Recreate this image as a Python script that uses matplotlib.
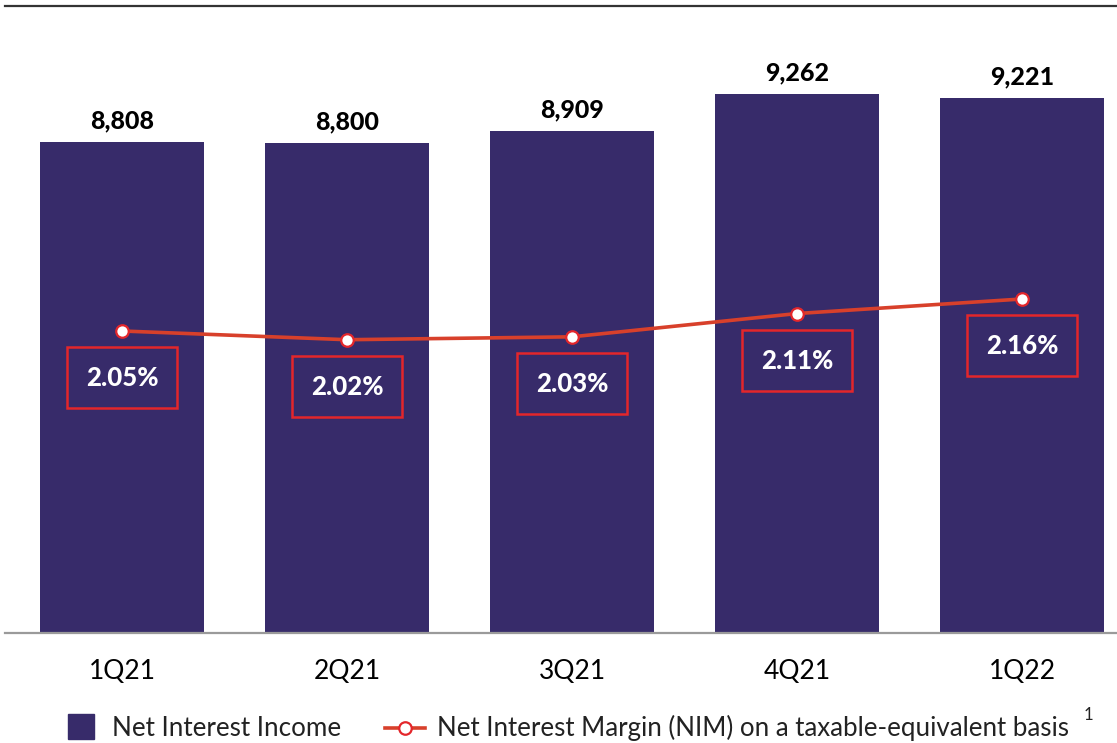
import numpy as np
import matplotlib
matplotlib.use("Agg")
import matplotlib.pyplot as plt
from matplotlib.lines import Line2D
from matplotlib.patches import Rectangle

plt.rcParams['font.family'] = ['Lato', 'DejaVu Sans']

quarters = ["1Q21", "2Q21", "3Q21", "4Q21", "1Q22"]
nii = [8808, 8800, 8909, 9262, 9221]
nim = [2.05, 2.02, 2.03, 2.11, 2.16]
nii_labels = ["8,808", "8,800", "8,909", "9,262", "9,221"]
nim_labels = ["2.05%", "2.02%", "2.03%", "2.11%", "2.16%"]

BAR = "#372B6A"
LINE = "#D8402B"
BOX = "#E4262B"

W, H = 1117, 743
fig = plt.figure(figsize=(W / 100, H / 100), dpi=100)
ax = fig.add_axes([5 / W, (H - 633) / H, 1112 / W, (633 - 6) / H])

x = np.arange(len(quarters))
ax.bar(x, nii, width=0.73, color=BAR, zorder=2)
ax.set_xlim(-0.52, 4.422)
ax.set_ylim(4163, 10095)
for xi, v, lab in zip(x, nii, nii_labels):
    ax.annotate(lab, (xi, v), xytext=(0, 10), textcoords="offset pixels",
                ha="center", va="bottom", fontsize=18, fontweight="black", color="black")

ax.set_xticks(x)
ax.set_xticklabels(quarters, fontsize=19)
ax.tick_params(axis="x", length=0, pad=19)
ax.set_yticks([])
for s in ["left", "right"]:
    ax.spines[s].set_visible(False)
ax.spines["bottom"].set_color("#9a9a9a")
ax.spines["bottom"].set_linewidth(1.6)
ax.spines["top"].set_color("#333333")
ax.spines["top"].set_linewidth(1.6)

ax2 = ax.twinx()
ax2.set_ylim(1.012, 3.167)
ax2.axis("off")
ax2.plot(x, nim, color=LINE, lw=2.6, marker="o", ms=9, mfc="white",
         mec=BOX, mew=1.6, zorder=3)
for xi, v, lab in zip(x, nim, nim_labels):
    ax2.annotate(lab, (xi, v), xytext=(0, -47), textcoords="offset pixels",
                 ha="center", va="center", fontsize=18.5, fontweight="black", color="white",
                 bbox=dict(boxstyle="square,pad=0.72", fc="none", ec=BOX, lw=1.8))

# legend
fig.patches.append(Rectangle((68 / W, (H - 739) / H), 26 / W, 25 / H,
                             transform=fig.transFigure, color=BAR, figure=fig))
fig.text(112 / W, (H - 728) / H, "Net Interest Income", fontsize=18.7,
         va="center", ha="left", color="#222222")
fig.lines.append(Line2D([385 / W, 425 / W], [(H - 728) / H] * 2, transform=fig.transFigure,
                        color=LINE, lw=2.6, figure=fig))
fig.lines.append(Line2D([405 / W], [(H - 728) / H], transform=fig.transFigure,
                        marker="o", ms=9, mfc="white", mec=BOX, mew=1.6, figure=fig))
fig.text(437 / W, (H - 728) / H, "Net Interest Margin (NIM) on a taxable-equivalent basis",
         fontsize=18.6, va="center", ha="left", color="#222222")
fig.text(1088 / W, (H - 715) / H, "1", fontsize=12, va="center", ha="center", color="#222222")

fig.savefig("out.png", dpi=100)
